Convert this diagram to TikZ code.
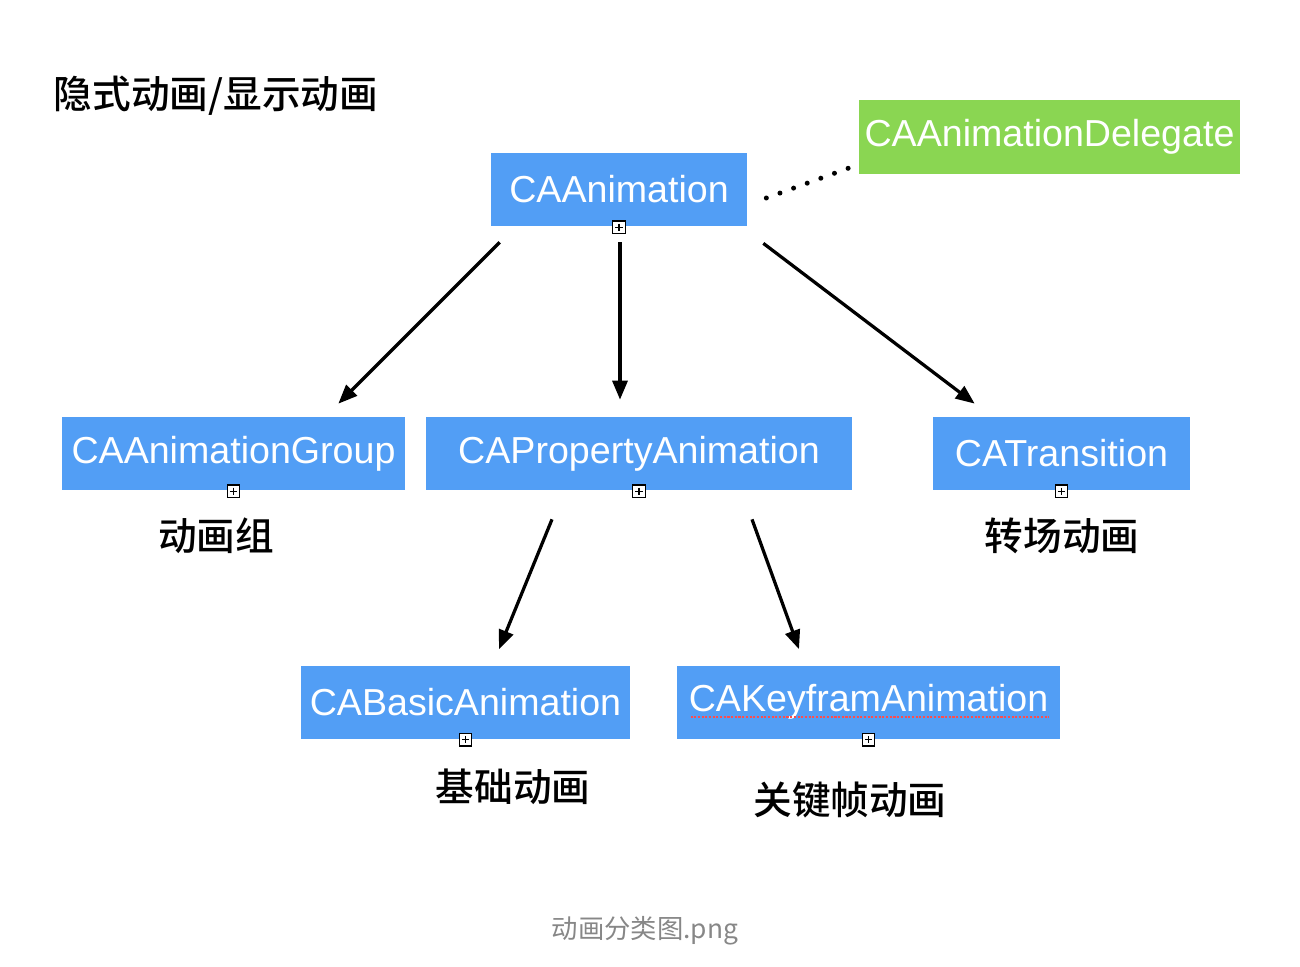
\documentclass[tikz,border=0pt]{standalone}
\usepackage{fontspec}
\setmainfont{Liberation Sans}
\newfontfamily\cjk{Noto Sans CJK SC}
\newfontfamily\cjkmed{Noto Sans CJK SC Medium}
\usetikzlibrary{arrows.meta}
\definecolor{boxblue}{RGB}{82,158,245}
\definecolor{boxgreen}{RGB}{138,214,82}
\definecolor{capgray}{RGB}{135,135,135}
\tikzset{
   classbox/.style={fill=boxblue, text=white, minimum height=1.46cm, inner sep=0pt,
      font=\fontsize{21.4}{25}\selectfont},
   plusbox/.style={draw, fill=white, minimum size=0.25cm, inner sep=0pt, line width=0.6pt,
      path picture={
         \draw[line width=0.6pt] ([yshift=-1.5pt]path picture bounding box.north) -- ([yshift=1.5pt]path picture bounding box.south);
         \draw[line width=0.6pt] ([xshift=1.5pt]path picture bounding box.west) -- ([xshift=-1.5pt]path picture bounding box.east);}},
   note/.style={font=\cjkmed\fontsize{22}{26}\selectfont},
   inherit/.style={-{Triangle[length=0.38cm,width=0.3cm]}, line width=0.065cm}
}
\begin{document}
\begin{tikzpicture}[x=0.02cm, y=-0.02cm]
   \useasboundingbox (0,0) rectangle (1300,966);
   \def \Classes {
      anim/619/189.5/5.12/CAAnimation,
      group/233.5/453.5/6.86/CAAnimationGroup,
      prop/639/453.5/8.52/CAPropertyAnimation,
      trans/1061.5/453.5/5.14/CATransition,
      basic/465.5/702/6.58/CABasicAnimation,
      key/868.5/702/7.66/CAKeyframAnimation}
   \foreach \u / \x / \y / \w / \n in \Classes {
      \node[classbox, minimum width=\w cm] (\u) at (\x, \y){\n};
      \node[plusbox] (\u-plus) at ([yshift=-0.5pt]\u.south){};
   }
   \node[classbox, fill=boxgreen, minimum width=7.62cm, minimum height=1.48cm] (deleg) at (1049.5, 137){CAAnimationDelegate};
   % spell check underline
   \draw[red!70!white, line width=0.8pt, dash pattern=on 1.2pt off 0.9pt] ([shift={(-178,15)}]key.center) -- ([shift={(180,15)}]key.center);
   % labels
   \node[note] (title) at (216, 96){隐式动画/显示动画};
   \node[note] (group-note) at (216, 536){动画组};
   \node[note] (trans-note) at (1062, 536){转场动画};
   \node[note] (basic-note) at (513, 787){基础动画};
   \node[note] (key-note) at (850, 800){关键帧动画};
   \node[font=\cjk\fontsize{15}{18}\selectfont, text=capgray] (caption) at (645, 931){动画分类图.png};
   % arrows
   \draw[inherit] ([shift={(9,16)}]anim.south west) -- ([shift={(-67,-13)}]group.north east);
   \draw[inherit] ([shift={(1,16)}]anim.south) -- ([shift={(-19,-17)}]prop.north);
   \draw[inherit] ([shift={(16,17)}]anim.south east) -- ([shift={(42,-13)}]trans.north west);
   \draw[inherit] ([shift={(-87,29)}]prop.south) -- ([shift={(33.5,-16)}]basic.north);
   \draw[inherit] ([shift={(113,29)}]prop.south) -- ([shift={(-69.5,-16)}]key.north);
   \draw[line width=0.1cm, line cap=round, dash pattern=on 0pt off 0.29cm] ([shift={(19,8.5)}]anim.east) -- ([shift={(-7,30)}]deleg.west);
\end{tikzpicture}
\end{document}
